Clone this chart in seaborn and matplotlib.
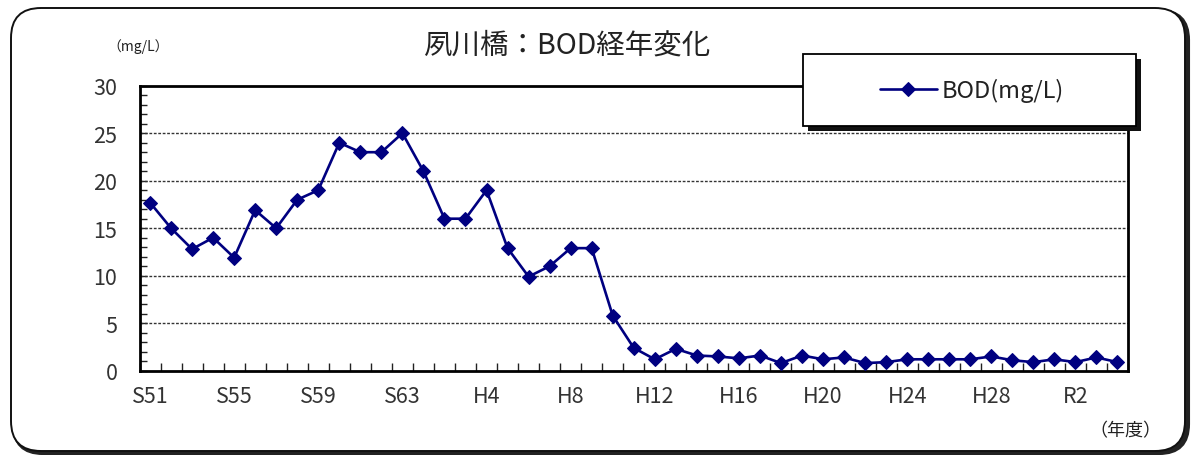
import matplotlib
matplotlib.use("Agg")
import matplotlib.pyplot as plt
from matplotlib.patches import FancyBboxPatch, Rectangle
from matplotlib.transforms import IdentityTransform
from matplotlib.ticker import FixedLocator, MultipleLocator
import seaborn as sns
import pandas as pd

# ---- data ----
years = ["S51", "S52", "S53", "S54", "S55", "S56", "S57", "S58", "S59", "S60",
         "S61", "S62", "S63", "H1", "H2", "H3", "H4", "H5", "H6", "H7",
         "H8", "H9", "H10", "H11", "H12", "H13", "H14", "H15", "H16", "H17",
         "H18", "H19", "H20", "H21", "H22", "H23", "H24", "H25", "H26", "H27",
         "H28", "H29", "H30", "R1", "R2", "R3", "R4"]
bod = [17.7, 15.0, 12.8, 14.0, 11.9, 16.9, 15.0, 18.0, 19.0, 24.0,
       23.0, 23.0, 25.0, 21.0, 16.0, 16.0, 19.0, 12.9, 9.9, 11.0,
       12.9, 12.9, 5.8, 2.4, 1.2, 2.3, 1.6, 1.5, 1.3, 1.6,
       0.8, 1.6, 1.2, 1.4, 0.8, 0.9, 1.2, 1.2, 1.2, 1.2,
       1.5, 1.1, 0.9, 1.2, 0.9, 1.4, 0.9]
xtick_labels = ["S51", "S55", "S59", "S63", "H4", "H8", "H12", "H16",
                "H20", "H24", "H28", "R2"]
yticks = [0, 5, 10, 15, 20, 25, 30]
title = "夙川橋：BOD経年変化"
series_name = "BOD(mg/L)"

sns.set_theme(style="white")
plt.rcParams["font.family"] = ["Noto Sans CJK JP", "DejaVu Sans"]

W, H = 1197, 456
fig = plt.figure(figsize=(W / 100, H / 100), dpi=100)
fig.patch.set_facecolor("white")

def fx(px):
    return px / W

def fy(py):
    return 1 - py / H

# outer rounded frame with shadow
shadow = FancyBboxPatch((13, 1), 1176, 444, boxstyle="round,pad=0,rounding_size=30",
                        transform=IdentityTransform(), facecolor="#222222",
                        edgecolor="#222222", linewidth=1.5, zorder=-3)
frame = FancyBboxPatch((11, 4), 1174, 443, boxstyle="round,pad=0,rounding_size=30",
                       transform=IdentityTransform(), facecolor="white",
                       edgecolor="#111111", linewidth=1.4, zorder=-2)
fig.patches.extend([shadow, frame])

L, R, T, B = 139.5, 1128, 86.7, 371.7
ax = fig.add_axes([fx(L), fy(B), fx(R - L), (B - T) / H])
ax.set_facecolor("white")

df = pd.DataFrame({"year": range(len(years)), "bod": bod})
sns.lineplot(data=df, x="year", y="bod", ax=ax, color="#000080", linewidth=1.9,
             marker="D", markersize=7.4, markeredgecolor="#000080",
             markerfacecolor="#000080", label=series_name, legend=False, zorder=5)

ax.set_xlim(-0.5, len(years) - 0.5)
ax.set_ylim(0, 30)

pos = [years.index(t) for t in xtick_labels]
ax.set_xticks(pos)
ax.set_xticklabels(xtick_labels)
ax.xaxis.set_minor_locator(FixedLocator([i + 0.5 for i in range(-1, len(years))]))
ax.tick_params(axis="x", which="major", length=0, pad=10, labelsize=15.5, labelcolor="#333333")
ax.tick_params(axis="x", which="minor", direction="in", length=5.5, width=1, color="#222222", bottom=True)

ax.set_yticks(yticks)
ax.yaxis.set_minor_locator(MultipleLocator(1))
ax.tick_params(axis="y", which="major", direction="in", length=5, width=1, pad=16,
               labelsize=15.5, labelcolor="#333333", left=True)
ax.tick_params(axis="y", which="minor", direction="in", length=5, width=1, color="#222222", left=True)

for v in yticks[1:-1]:
    ax.axhline(v, color="#333333", linewidth=1.0, linestyle=(0, (2, 1.2)), zorder=1)

for s in ax.spines.values():
    s.set_color("black")
    s.set_linewidth(2)
ax.set_xlabel("")
ax.set_ylabel("")
ax.grid(False)

# titles / unit labels
fig.text(fx(567), fy(46), title, ha="center", va="center", fontsize=20.5, color="#222222")
fig.text(fx(138), fy(47), "（mg/L）", ha="center", va="center", fontsize=10, color="#222222")
fig.text(fx(1125), fy(431), "（年度）", ha="center", va="center", fontsize=13, color="#222222")

# legend box with shadow
lx0, ly0, lx1, ly1 = 803, 55, 1136, 127
fig.patches.append(Rectangle((lx0 + 5, H - ly1 - 5), lx1 - lx0, ly1 - ly0,
                             transform=IdentityTransform(), facecolor="#111111",
                             edgecolor="none", zorder=3))
fig.patches.append(Rectangle((lx0, H - ly1), lx1 - lx0, ly1 - ly0,
                             transform=IdentityTransform(), facecolor="white",
                             edgecolor="black", linewidth=1.3, zorder=3.5))
handles, labels = ax.get_legend_handles_labels()
leg = fig.legend(handles, labels, loc="center left",
                 bbox_to_anchor=(fx(880), fy(91)), frameon=False,
                 fontsize=17, handlelength=2.4, handletextpad=0.2, borderpad=0,
                 borderaxespad=0)
leg.set_zorder(6)
for t in leg.get_texts():
    t.set_color("#222222")

fig.savefig("out.png", dpi=100, facecolor="white")
